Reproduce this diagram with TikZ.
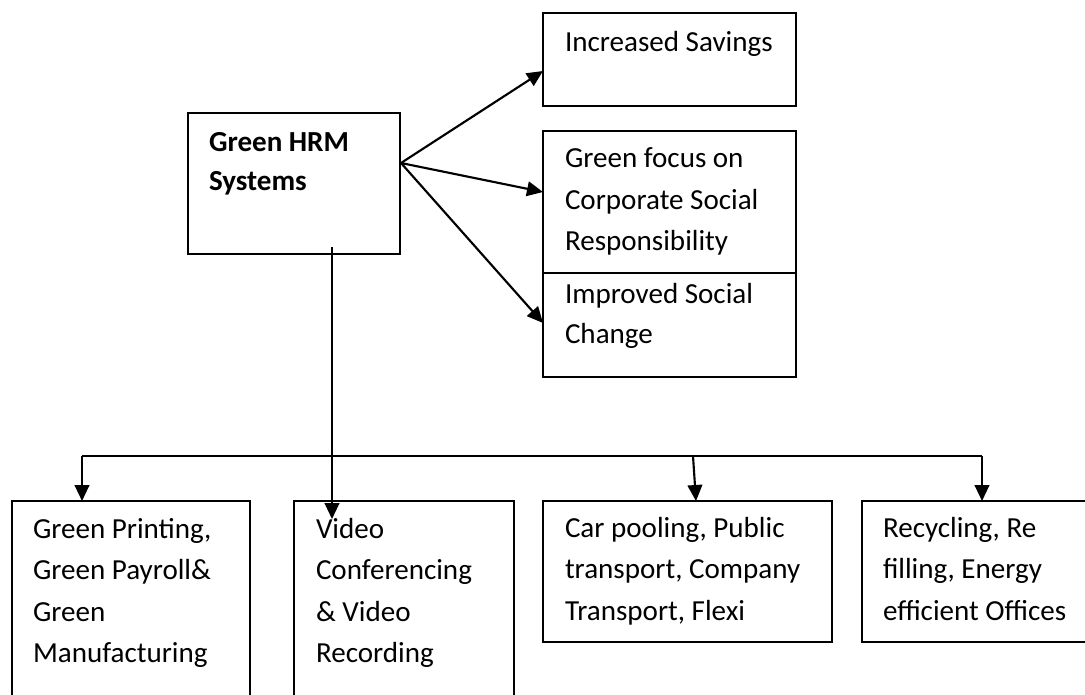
\documentclass[tikz,border=0pt]{standalone}
\usepackage{fontspec}
\setmainfont{Carlito}
\usetikzlibrary{arrows.meta,calc}
\newcommand{\lns}[1]{\begin{tabular}[t]{@{}l@{}}#1\end{tabular}}
\begin{document}
\begin{tikzpicture}[x=0.75pt,y=-0.75pt,
  box/.style={draw=black,line width=1.5pt,rectangle,inner sep=0pt,outer sep=0pt,anchor=north west},
  txt/.style={inner sep=0pt,outer sep=0pt,anchor=base west,font=\fontsize{21.8pt}{31.2pt}\selectfont},
  conn/.style={line width=1.6pt},
  arr/.style={line width=1.6pt,-{Triangle[length=12pt,width=11pt]}}]
\useasboundingbox (0,0) rectangle (1085,694);
\clip (0,0) rectangle (1085,694);
% boxes
\node[box,minimum width=159pt,minimum height=105.75pt] (hrm) at (188,113) {};
\node[box,minimum width=189.75pt,minimum height=69.75pt] (sav) at (543,13) {};
\node[box,minimum width=189.75pt,minimum height=106.5pt] (csr) at (543,131) {};
\node[box,minimum width=189.75pt,minimum height=78pt] (soc) at (543,273) {};
\node[box,minimum width=178.5pt,minimum height=149.25pt] (b1) at (12,501) {};
\node[box,minimum width=165pt,minimum height=149.25pt] (b2) at (294,501) {};
\node[box,minimum width=216.75pt,minimum height=105.75pt] (b3) at (543,501) {};
\node[box,minimum width=171pt,minimum height=105.75pt] (b4) at (862,501) {};
% texts
\node[txt,font=\fontsize{21.8pt}{29.25pt}\selectfont\bfseries] (hrmt) at (209,151.7) {\lns{Green HRM\\Systems}};
\node[txt] (savt) at (565,51.7) {Increased Savings};
\node[txt] (csrt) at (565,167.7) {\lns{Green focus on\\Corporate Social\\Responsibility}};
\node[txt,font=\fontsize{21.8pt}{30pt}\selectfont] (soct) at (565,303.3) {\lns{Improved Social\\Change}};
\node[txt] (b1t) at (33,538) {\lns{Green Printing,\\Green Payroll\&\\Green\\Manufacturing}};
\node[txt] (b2t) at (316,538) {\lns{Video\\Conferencing\\\& Video\\Recording}};
\node[txt] (b3t) at (565,537) {\lns{Car pooling, Public\\transport, Company\\Transport, Flexi}};
\node[txt] (b4t) at (883,537) {\lns{Recycling, Re\\filling, Energy\\efficient Offices}};
% connectors
\coordinate (hs) at (401,163);
\coordinate (hb) at (332,247);
\coordinate (j1) at (82,456);
\coordinate (j3) at (693,456);
\coordinate (j4) at (982,456);
\draw[arr] (hs) -- ([yshift=26.25pt]sav.south west);
\draw[arr] (hs) -- ([yshift=-45.75pt]csr.north west);
\draw[arr] (hs) -- ([yshift=-37.5pt]soc.north west);
\draw[arr] (hb) -- ([xshift=-54pt,yshift=-13.5pt]b2.north);
\draw[conn] (j1) -- (j4);
\draw[arr] (j1) -- (j1 |- b1.north);
\draw[arr] (j3) -- ([xshift=6.375pt]b3.north);
\draw[arr] (j4) -- (j4 |- b4.north);
\end{tikzpicture}
\end{document}
